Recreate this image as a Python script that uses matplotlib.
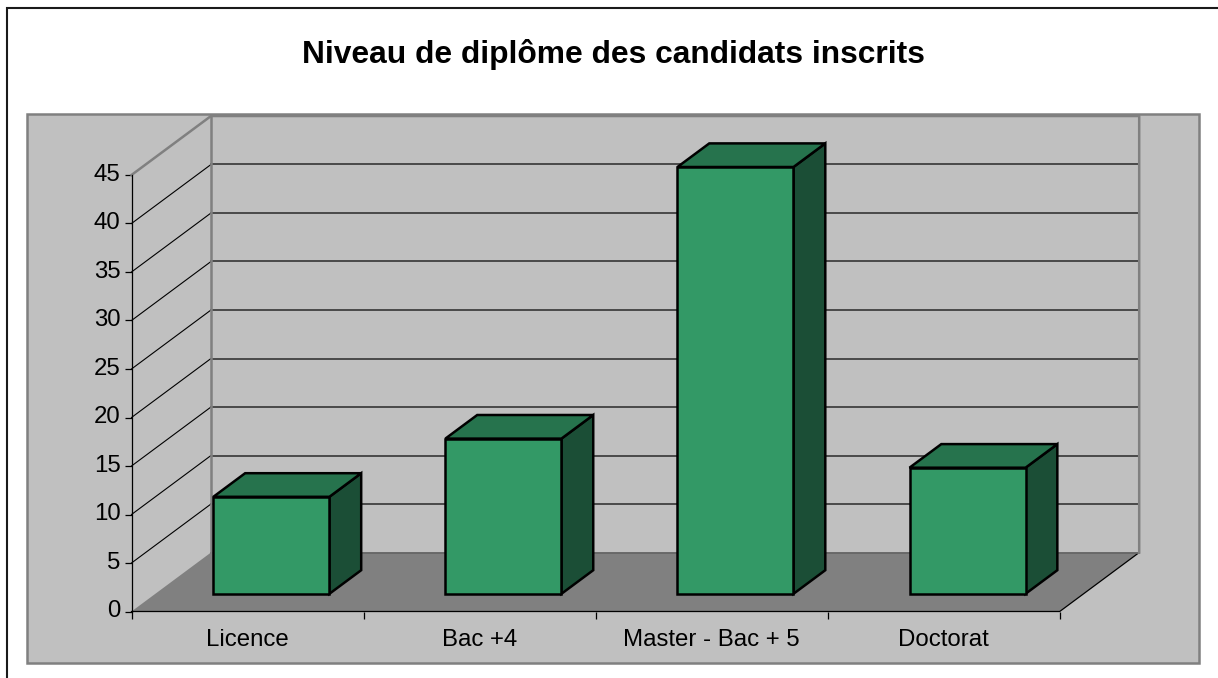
# niveau de diplome - fake 3D column chart, excel style
import matplotlib
matplotlib.use('Agg')
import matplotlib.pyplot as plt
from matplotlib.patches import Polygon, Rectangle
from matplotlib.transforms import ScaledTranslation

plt.rcParams['font.family'] = ['Liberation Sans', 'DejaVu Sans']

categories = ['Licence', 'Bac +4', 'Master - Bac + 5', 'Doctorat']
values = [10, 16, 44, 13]
y_ticks = [0, 5, 10, 15, 20, 25, 30, 35, 40, 45]
title = 'Niveau de diplôme des candidats inscrits'

W, H = 1218, 678
fig = plt.figure(figsize=(W / 100, H / 100), dpi=100, facecolor='white')

# background boxes, in figure pixels
def box(x0, y0, x1, y1, fc, ec, lw):
    fig.add_artist(Rectangle((x0 / W, 1 - y1 / H), (x1 - x0) / W, (y1 - y0) / H,
                             transform=fig.transFigure, fc=fc, ec=ec, lw=lw, zorder=-1))

box(7, 8, 1240, 700, 'white', '#1a1a1a', 1.5)
box(27, 114, 1199, 663, '#c0c0c0', '#808080', 1.8)

# the axes is the front plane of the 3D box
left, right, bottom, top = 131.5, 1059.7, 611.5, 175
ax = fig.add_axes([left / W, 1 - bottom / H, (right - left) / W, (bottom - top) / H])
ax.set_xlim(0, len(categories))
ax.set_ylim(0, 45)
ax.patch.set_visible(False)

# depth of the box, in data units
dx = 79.5 / ((right - left) / len(categories))
dy = 59 / ((bottom - top) / 45)

def proj(x, y, d):
    return (x + d * dx, y + d * dy)

# floor and walls
ymax = y_ticks[-1]
n = len(categories)
ax.add_patch(Polygon([proj(0, 0, 0), proj(n, 0, 0), proj(n, 0, 1), proj(0, 0, 1)],
                     fc='#808080', ec='none', zorder=1, clip_on=False))
for v in y_ticks[1:-1]:
    ax.plot(*zip(proj(0, v, 0), proj(0, v, 1)), color='black', lw=0.8, zorder=2, clip_on=False)
    ax.plot(*zip(proj(0, v, 1), proj(n, v, 1)), color='#404040', lw=1.3, zorder=2, clip_on=False)
ax.plot(*zip(proj(0, 0, 0), proj(n, 0, 0), proj(n, 0, 1)), color='black', lw=0.9, zorder=2, clip_on=False)
ax.plot(*zip(proj(0, 0, 1), proj(n, 0, 1)), color='#666666', lw=1.3, zorder=2, clip_on=False)
ax.plot(*zip(proj(0, ymax, 0), proj(0, ymax, 1), proj(n, ymax, 1), proj(n, 0, 1)),
        color='#808080', lw=1.8, zorder=2, clip_on=False)
ax.plot(*zip(proj(0, 0, 1), proj(0, ymax, 1)), color='#808080', lw=1.8, zorder=2, clip_on=False)

# bars
bar_w = 0.5
d0, d1 = 0.3, 0.7
for i, v in enumerate(values):
    x0, x1 = i + 0.5 - bar_w / 2, i + 0.5 + bar_w / 2
    style = dict(ec='black', lw=1.8, zorder=5, joinstyle='miter', clip_on=False)
    ax.add_patch(Polygon([proj(x1, 0, d0), proj(x1, 0, d1), proj(x1, v, d1), proj(x1, v, d0)],
                         fc='#1b4e36', **style))
    ax.add_patch(Polygon([proj(x0, v, d0), proj(x1, v, d0), proj(x1, v, d1), proj(x0, v, d1)],
                         fc='#26734d', **style))
    ax.add_patch(Polygon([proj(x0, 0, d0), proj(x1, 0, d0), proj(x1, v, d0), proj(x0, v, d0)],
                         fc='#339966', **style))

# axis, ticks
for s in ['top', 'right', 'bottom']:
    ax.spines[s].set_visible(False)
ax.spines['left'].set_linewidth(0.9)
ax.set_yticks(y_ticks)
ax.set_xticks(range(n + 1))
ax.set_xticklabels([])
ax.set_xticks([i + 0.5 for i in range(n)], minor=True)
ax.set_xticklabels(categories, minor=True)
ax.tick_params(axis='x', which='major', length=5, width=0.9, direction='out')
ax.tick_params(axis='x', which='minor', length=0, pad=12.5, labelsize=17.3)
ax.tick_params(axis='y', length=5, width=0.9, labelsize=17.3, pad=3)

# y labels sit a bit above their ticks in the original
up = ScaledTranslation(0, 2 / 72, fig.dpi_scale_trans)
for lab in ax.get_yticklabels():
    lab.set_transform(lab.get_transform() + up)

fig.text(613.5 / W, 1 - 55 / H, title, ha='center', va='center', fontsize=22.9, fontweight='bold')

fig.savefig('out.png', dpi=100)
